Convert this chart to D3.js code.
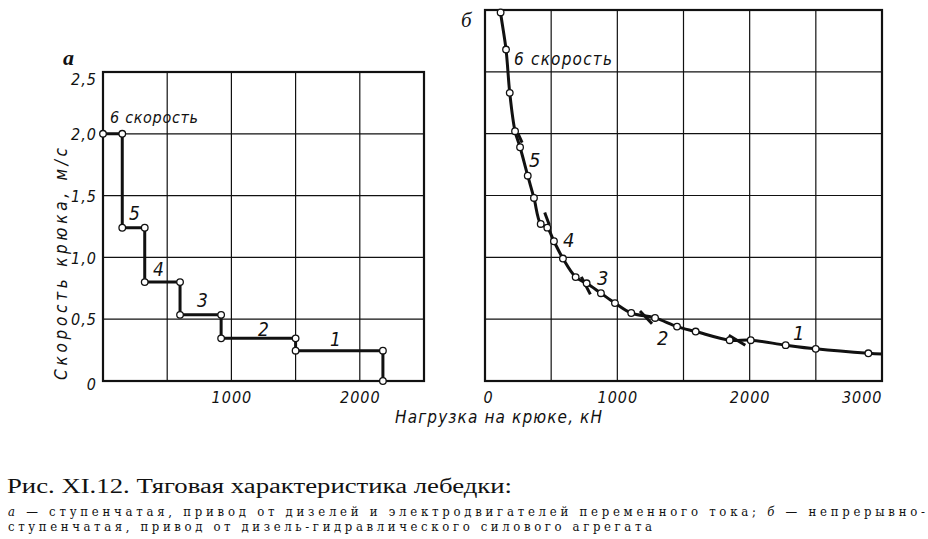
<!DOCTYPE html>
<html><head><meta charset="utf-8">
<script src="https://cdn.jsdelivr.net/npm/d3@7"></script>
<style>
body{margin:0;background:#fff;}
svg{display:block;}
.dr{font-family:"DejaVu Sans Condensed","Liberation Sans Narrow",sans-serif;font-style:italic;fill:#111;}
.cap{font-family:"Liberation Serif","Noto Serif",serif;fill:#111;font-weight:normal;}
.cap2{font-family:"DejaVu Serif Condensed","DejaVu Serif",serif;fill:#111;font-weight:normal;}
</style></head><body>
<svg id="c" width="928" height="539"></svg>
<script>
// ---- data ----
const leftXTicks = [1000, 2000];
const leftYTicks = [0, 0.5, 1.0, 1.5, 2.0, 2.5];
const leftYTickLabels = ["0", "0,5", "1,0", "1,5", "2,0", "2,5"];
const rightXTicks = [0, 1000, 2000, 3000];
// stepped characteristic (a): load kN, speed m/s
const stepLoad  = [0, 150, 150, 325, 325, 600, 600, 920, 920, 1500, 1500, 2180, 2180];
const stepSpeed = [2.0, 2.0, 1.24, 1.24, 0.80, 0.80, 0.535, 0.535, 0.345, 0.345, 0.245, 0.245, 0];
// continuous characteristic (б)
const curveLoad  = [118, 159, 187, 227, 265, 323, 370, 421, 471, 521, 589, 685, 768, 876, 982, 1105, 1285, 1451, 1592, 1849, 2008, 2272, 2499, 2897];
const curveSpeed = [2.98, 2.68, 2.33, 2.02, 1.89, 1.66, 1.48, 1.27, 1.24, 1.13, 0.99, 0.84, 0.79, 0.71, 0.63, 0.55, 0.51, 0.44, 0.40, 0.33, 0.33, 0.29, 0.26, 0.224];
const curveEndLoad = 3000, curveEndSpeed = 0.218;
// gear-change marks on curve б
const markLoad1  = [234, 436, 713, 1156, 1827];
const markSpeed1 = [2.01, 1.37, 0.85, 0.574, 0.378];
const markLoad2  = [265, 471, 781, 1247, 1952];
const markSpeed2 = [1.935, 1.27, 0.709, 0.471, 0.297];
// gear labels
const gearLabels = ["6 скорость", "5", "4", "3", "2", "1"];
const leftLabelLoad  = [55, 202, 389, 732, 1207, 1768];
const leftLabelSpeed = [2.087, 1.30, 0.85, 0.60, 0.364, 0.283];
const rightLabelLoad  = [219, 333, 589, 846, 1300, 2327];
const rightLabelSpeed = [2.555, 1.73, 1.084, 0.776, 0.291, 0.332];

// ---- drawing ----
const svg = d3.select("#c");
const ink = "#111";

function gridFrame(g, x, y, xGrid, yGrid){
  const [x0,x1] = x.range(), [y0,y1] = y.range();
  g.append("g").selectAll("line").data(xGrid).join("line")
    .attr("x1", d=>x(d)).attr("x2", d=>x(d)).attr("y1", y0).attr("y2", y1)
    .attr("stroke", ink).attr("stroke-width", 1.2);
  g.append("g").selectAll("line").data(yGrid).join("line")
    .attr("x1", x0).attr("x2", x1).attr("y1", d=>y(d)).attr("y2", d=>y(d))
    .attr("stroke", ink).attr("stroke-width", 1.2);
  g.append("rect").attr("x", x0).attr("y", y1).attr("width", x1-x0).attr("height", y0-y1)
    .attr("fill","none").attr("stroke", ink).attr("stroke-width", 2.2);
}
function styleTicks(g){
  g.select(".domain").remove();
  g.selectAll("text").attr("class","dr").attr("fill",ink).attr("font-family",null)
    .style("font-size","16px").style("letter-spacing","1px");
}

// left chart
const xL = d3.scaleLinear().domain([0,2500]).range([103,424]);
const yL = d3.scaleLinear().domain([0,2.5]).range([381,72]);
const gL = svg.append("g");
gridFrame(gL, xL, yL, d3.range(500,2500,500), d3.range(0.5,2.5,0.5));

const stepPts = stepLoad.map((d,i)=>[d, stepSpeed[i]]);
gL.append("path").datum(stepPts)
  .attr("d", d3.line().x(d=>xL(d[0])).y(d=>yL(d[1])))
  .attr("fill","none").attr("stroke", ink).attr("stroke-width", 3).attr("stroke-linejoin","miter");
gL.append("g").selectAll("circle").data(stepPts).join("circle")
  .attr("cx", d=>xL(d[0])).attr("cy", d=>yL(d[1])).attr("r", 3.3)
  .attr("fill","#fff").attr("stroke", ink).attr("stroke-width", 1.3);

const axLx = d3.axisBottom(xL).tickValues(leftXTicks).tickSize(0).tickPadding(0).tickFormat(d3.format("d"));
gL.append("g").attr("transform","translate(0,403)").call(axLx).call(styleTicks)
  .call(g=>g.selectAll("text").attr("dy",null).attr("y",0));
const axLy = d3.axisLeft(yL).tickValues(leftYTicks).tickSize(0).tickPadding(0)
  .tickFormat((d,i)=>leftYTickLabels[i]);
gL.append("g").attr("transform","translate(97,0)").call(axLy).call(styleTicks)
  .call(g=>g.selectAll("text").attr("dy","0.36em"))
  .call(g=>g.selectAll(".tick").filter(d=>d===2.5).select("text").attr("dy","0.75em"))
  .call(g=>g.selectAll(".tick").filter(d=>d===0).select("text").attr("dy","0.5em"));

gL.append("g").selectAll("text").data(gearLabels).join("text")
  .attr("class","dr").attr("x",(d,i)=>xL(leftLabelLoad[i])).attr("y",(d,i)=>yL(leftLabelSpeed[i]))
  .style("font-size",(d,i)=>i===0?"16px":"19px")
  .attr("textLength",(d,i)=>i===0?88:null).attr("lengthAdjust","spacing")
  .text(d=>d);

svg.append("text").attr("class","dr").attr("transform","translate(67,264) rotate(-90)")
  .attr("text-anchor","middle").style("font-size","17px")
  .attr("textLength",232).attr("lengthAdjust","spacing")
  .text("Скорость  крюка, м/с");
svg.append("text").attr("x",63).attr("y",65)
  .style("font-family","'Liberation Serif',serif").style("font-style","italic").style("font-weight","bold")
  .style("font-size","22px").attr("fill",ink).text("а");

// right chart
const xR = d3.scaleLinear().domain([0,3000]).range([485,882]);
const yR = d3.scaleLinear().domain([0,3]).range([381,10]);
const gR = svg.append("g");
gridFrame(gR, xR, yR, d3.range(500,3000,500), d3.range(0.5,3,0.5));

const curvePts = curveLoad.map((d,i)=>[d, curveSpeed[i]]);
const fullCurve = [[curveLoad[0], 3.0]].concat(curvePts, [[curveEndLoad, curveEndSpeed]]);
gR.append("path").datum(fullCurve)
  .attr("d", d3.line().curve(d3.curveCatmullRom.alpha(0.5)).x(d=>xR(d[0])).y(d=>yR(d[1])))
  .attr("fill","none").attr("stroke", ink).attr("stroke-width", 3);
gR.append("g").selectAll("line").data(markLoad1).join("line")
  .attr("x1",(d,i)=>xR(d)+2).attr("y1",(d,i)=>yR(markSpeed1[i])+1)
  .attr("x2",(d,i)=>xR(markLoad2[i])+2).attr("y2",(d,i)=>yR(markSpeed2[i])+1)
  .attr("stroke", ink).attr("stroke-width", 3);
gR.append("g").selectAll("circle").data(curvePts).join("circle")
  .attr("cx", d=>xR(d[0])).attr("cy", d=>yR(d[1])).attr("r", 3.3)
  .attr("fill","#fff").attr("stroke", ink).attr("stroke-width", 1.3);

const axRx = d3.axisBottom(xR).tickValues(rightXTicks).tickSize(0).tickPadding(0).tickFormat(d3.format("d"));
gR.append("g").attr("transform","translate(0,403)").call(axRx).call(styleTicks)
  .call(g=>g.selectAll("text").attr("dy",null).attr("y",0))
  .call(g=>g.selectAll(".tick").filter(d=>d===3000).select("text").attr("text-anchor","end"))
  .call(g=>g.selectAll(".tick").filter(d=>d===0).select("text").attr("dx","3"));

gR.append("g").selectAll("text").data(gearLabels).join("text")
  .attr("class","dr").attr("x",(d,i)=>xR(rightLabelLoad[i])).attr("y",(d,i)=>yR(rightLabelSpeed[i]))
  .style("font-size",(d,i)=>i===0?"17px":"20px")
  .attr("textLength",(d,i)=>i===0?98:null).attr("lengthAdjust","spacing")
  .text(d=>d);
svg.append("text").attr("x",461).attr("y",27)
  .style("font-family","'Liberation Serif',serif").style("font-style","italic")
  .style("font-size","21px").attr("fill",ink).text("б");

// x axis title
svg.append("text").attr("class","dr").attr("x",395).attr("y",423)
  .style("font-size","17px").attr("textLength",207).attr("lengthAdjust","spacing")
  .text("Нагрузка на крюке, кН");

// caption
svg.append("text").attr("class","cap").attr("x",7).attr("y",493).style("font-size","20px")
  .attr("textLength",505).attr("lengthAdjust","spacingAndGlyphs")
  .text("Рис. XI.12. Тяговая характеристика лебедки:");
const c2 = svg.append("text").attr("class","cap2").attr("x",8).attr("y",516).style("font-size","13px")
  .attr("textLength",917).attr("lengthAdjust","spacing");
c2.append("tspan").style("font-style","italic").text("а");
c2.append("tspan").text(" — ступенчатая, привод от дизелей и электродвигателей переменного тока; ");
c2.append("tspan").style("font-style","italic").text("б");
c2.append("tspan").text(" — непрерывно-");
svg.append("text").attr("class","cap2").attr("x",8).attr("y",531).style("font-size","13px")
  .attr("textLength",644).attr("lengthAdjust","spacing")
  .text("ступенчатая, привод от дизель-гидравлического силового агрегата");
</script></body></html>
